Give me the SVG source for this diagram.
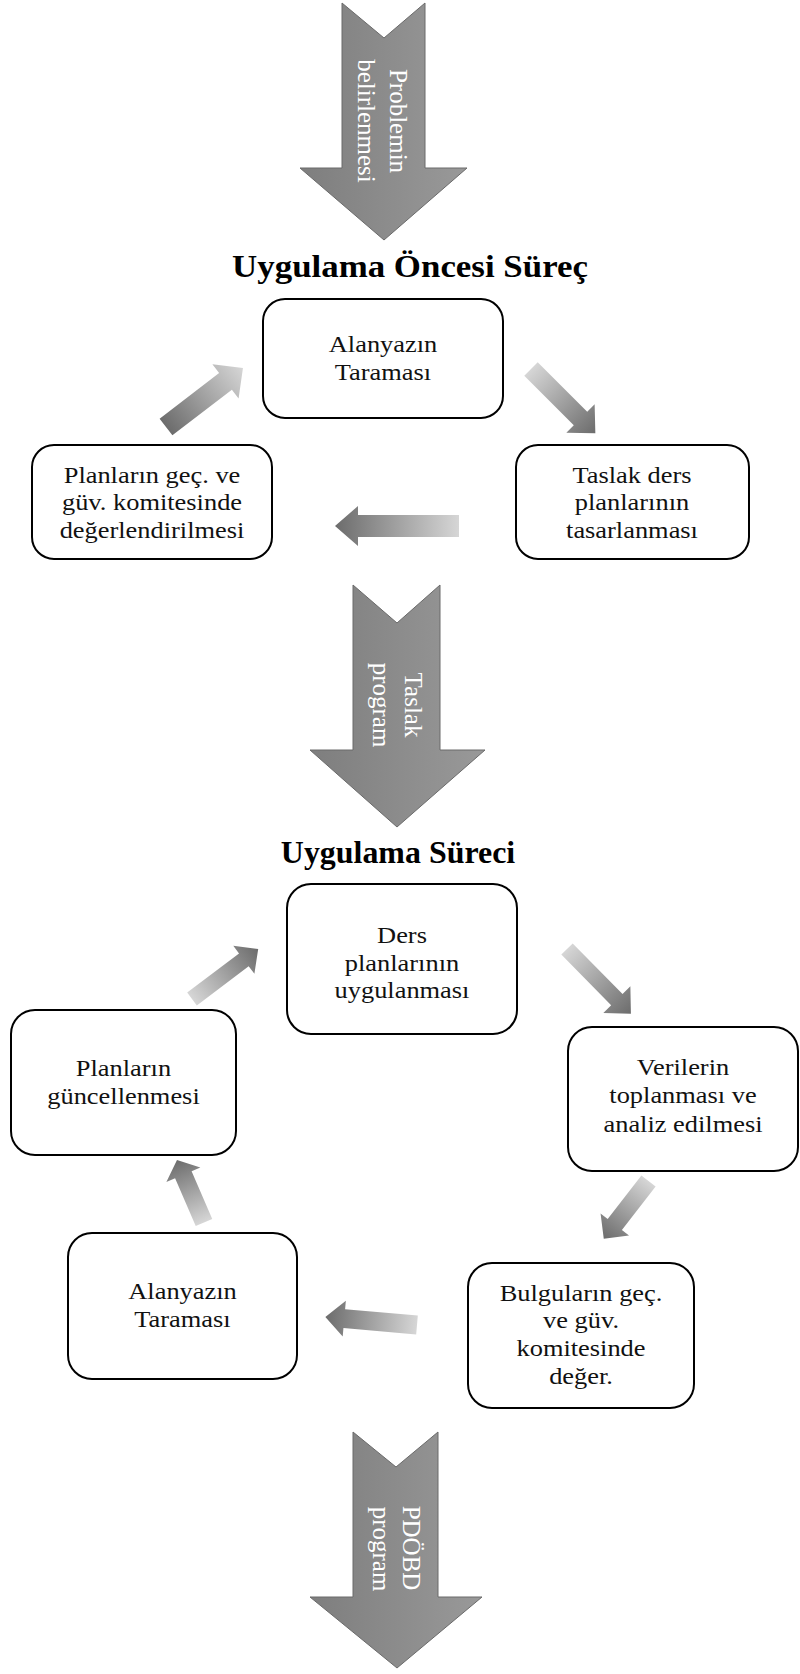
<svg xmlns="http://www.w3.org/2000/svg" width="800" height="1674" viewBox="0 0 800 1674">
<defs>
<linearGradient id="bigGrad" x1="0" y1="0" x2="1" y2="0">
<stop offset="0" stop-color="#7e7e7e"/>
<stop offset="1" stop-color="#999999"/>
</linearGradient>
<linearGradient id="lightToDark" x1="0" y1="0" x2="1" y2="0">
<stop offset="0" stop-color="#d6d6d6"/>
<stop offset="1" stop-color="#6c6c6c"/>
</linearGradient>
<linearGradient id="darkToLight" x1="0" y1="0" x2="1" y2="0">
<stop offset="0" stop-color="#6c6c6c"/>
<stop offset="1" stop-color="#d6d6d6"/>
</linearGradient>
<style>
.box{fill:#fff;stroke:#000;stroke-width:2}
.lbl{font-family:"Liberation Serif","Times New Roman",serif;font-size:24px;fill:#111;text-anchor:middle}
.title{font-family:"Liberation Serif","Times New Roman",serif;font-weight:bold;fill:#000;text-anchor:middle}
.big{fill:url(#bigGrad);stroke:#6a6a6a;stroke-width:1}
.vt{font-family:"Liberation Serif","Times New Roman",serif;font-size:25px;fill:#fff;text-anchor:middle}
.ld{fill:url(#lightToDark)}
.dl{fill:url(#darkToLight)}
</style>
</defs>

<g id="flow-arrows">
<g id="arrow-problem">
<path class="big" d="M342,3 L384,38 L425,3 L425,168 L467,168 L384,240 L300,168 L342,168 Z"/>
<text class="vt" transform="translate(390,121) rotate(90)">Problemin</text>
<text class="vt" transform="translate(358,121) rotate(90)">belirlenmesi</text>
</g>
<g id="arrow-taslak">
<path class="big" d="M353,585 L397,623 L440,585 L440,750 L485,750 L397,827 L310,750 L353,750 Z"/>
<text class="vt" transform="translate(405,705) rotate(90)">Taslak</text>
<text class="vt" transform="translate(373,705) rotate(90)">program</text>
</g>
<g id="arrow-pdobd">
<path class="big" d="M353,1432 L396,1467 L438,1432 L438,1597 L482,1597 L397,1668 L310,1597 L353,1597 Z"/>
<text class="vt" transform="translate(403,1548) rotate(90)">PDÖBD</text>
<text class="vt" transform="translate(373,1549) rotate(90)">program</text>
</g>
</g>

<g id="title-1" transform="translate(410 277) scale(1.09 1)">
<text class="title" x="0" y="0" font-size="32">Uygulama Öncesi Süreç</text>
</g>
<g id="title-2" transform="translate(398 863) scale(1.03 1)">
<text class="title" x="0" y="0" font-size="31">Uygulama Süreci</text>
</g>

<g id="connectors">
<path class="dl" transform="translate(166,427) rotate(-37.5)" d="M0,-10.5 L75,-10.5 L75,-21.5 L97,0 L75,21.5 L75,10.5 L0,10.5 Z"/>
<path class="ld" transform="translate(531,369) rotate(45)" d="M0,-9.5 L70,-9.5 L70,-20 L91,0 L70,20 L70,9.5 L0,9.5 Z"/>
<path class="ld" transform="translate(459,526) rotate(180)" d="M0,-11 L101,-11 L101,-20 L124,0 L101,20 L101,11 L0,11 Z"/>
<path class="ld" transform="translate(192,999) rotate(-37.1)" d="M0,-8 L65,-8 L65,-17.5 L83,0 L65,17.5 L65,8 L0,8 Z"/>
<path class="ld" transform="translate(567,949) rotate(45.4)" d="M0,-8 L71,-8 L71,-19 L91,0 L71,19 L71,8 L0,8 Z"/>
<path class="ld" transform="translate(648.5,1181) rotate(127.8)" d="M0,-9 L55,-9 L55,-18 L73,0 L55,18 L55,9 L0,9 Z"/>
<path class="ld" transform="translate(417,1325) rotate(185)" d="M0,-9.5 L73,-9.5 L73,-18 L92,0 L73,18 L73,9.5 L0,9.5 Z"/>
<path class="ld" transform="translate(204,1222.5) rotate(-113.4)" d="M0,-9 L52,-9 L52,-18.5 L68,0 L52,18.5 L52,9 L0,9 Z"/>
</g>

<g id="node-alanyazin-1">
<rect class="box" x="263" y="299" width="240" height="119" rx="22"/>
<g transform="translate(383 0) scale(1.1 1)">
<text class="lbl" x="0" y="352">Alanyazın</text>
<text class="lbl" x="0" y="380">Taraması</text>
</g>
</g>
<g id="node-taslak">
<rect class="box" x="516" y="445" width="233" height="114" rx="22"/>
<g transform="translate(632 0) scale(1.1 1)">
<text class="lbl" x="0" y="483">Taslak ders</text>
<text class="lbl" x="0" y="510">planlarının</text>
<text class="lbl" x="0" y="538">tasarlanması</text>
</g>
</g>
<g id="node-planlarin-deger">
<rect class="box" x="32" y="445" width="240" height="114" rx="22"/>
<g transform="translate(152 0) scale(1.1 1)">
<text class="lbl" x="0" y="483">Planların geç. ve</text>
<text class="lbl" x="0" y="510">güv. komitesinde</text>
<text class="lbl" x="0" y="538">değerlendirilmesi</text>
</g>
</g>

<g id="node-ders-uygulama">
<rect class="box" x="287" y="884" width="230" height="150" rx="24"/>
<g transform="translate(402 0) scale(1.1 1)">
<text class="lbl" x="0" y="943">Ders</text>
<text class="lbl" x="0" y="971">planlarının</text>
<text class="lbl" x="0" y="998">uygulanması</text>
</g>
</g>
<g id="node-veriler">
<rect class="box" x="568" y="1027" width="230" height="144" rx="24"/>
<g transform="translate(683 0) scale(1.1 1)">
<text class="lbl" x="0" y="1075">Verilerin</text>
<text class="lbl" x="0" y="1103">toplanması ve</text>
<text class="lbl" x="0" y="1132">analiz edilmesi</text>
</g>
</g>
<g id="node-bulgular">
<rect class="box" x="468" y="1263" width="226" height="145" rx="24"/>
<g transform="translate(581 0) scale(1.1 1)">
<text class="lbl" x="0" y="1301">Bulguların geç.</text>
<text class="lbl" x="0" y="1328">ve güv.</text>
<text class="lbl" x="0" y="1356">komitesinde</text>
<text class="lbl" x="0" y="1384">değer.</text>
</g>
</g>
<g id="node-alanyazin-2">
<rect class="box" x="68" y="1233" width="229" height="146" rx="24"/>
<g transform="translate(182.5 0) scale(1.1 1)">
<text class="lbl" x="0" y="1299">Alanyazın</text>
<text class="lbl" x="0" y="1327">Taraması</text>
</g>
</g>
<g id="node-guncelleme">
<rect class="box" x="11" y="1010" width="225" height="145" rx="24"/>
<g transform="translate(123.5 0) scale(1.1 1)">
<text class="lbl" x="0" y="1076">Planların</text>
<text class="lbl" x="0" y="1104">güncellenmesi</text>
</g>
</g>
</svg>
